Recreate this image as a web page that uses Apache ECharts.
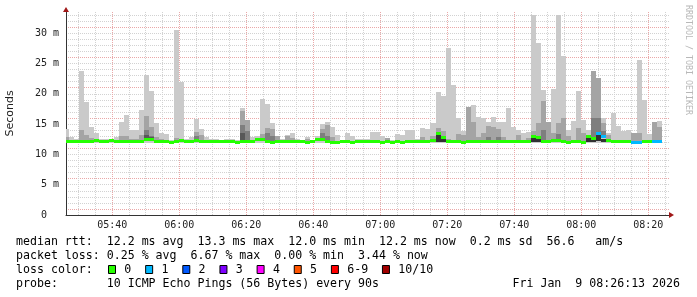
<!DOCTYPE html>
<html><head><meta charset="utf-8">
<script src="https://cdn.jsdelivr.net/npm/echarts@6/dist/echarts.min.js"></script>
<style>html,body{margin:0;padding:0;background:#fff}#c{width:697px;height:297px}</style>
</head><body><div id="c"></div>
<script>
const _ = null;
// time axis, minutes since midnight; 90 s slots starting 05:25:30
const firstSlot = 325.5;
const slotLen = 1.5;
const axisStart = 326.2, axisEnd = 506.2;
const majorTicks = [340,360,380,400,420,440,460,480,500];
const minorTicks = [330,335,345,350,355,365,370,375,385,390,395,405,410,415,425,430,435,445,450,455,465,470,475,485,490,495,505];
const yTicks = [0,5,10,15,20,25,30];

// smoke: outermost ping (max / min)
const pingMax = [14.2,12.9,12.6,23.7,18.6,14.5,13.6,12.5,12.5,12.3,12.8,
 15.4,16.5,14.1,14.1,17.4,23.1,20.5,15.1,13.5,13.4,
 12.4,30.5,22.0,12.6,12.9,15.9,14.2,12.8,12.5,12.5,
 12.4,12.5,12.5,12.4,17.7,15.7,12.8,13.1,19.2,18.4,
 15.1,13.1,12.5,13.2,13.5,12.6,12.4,12.9,12.4,13.1,
 15.0,15.4,14.6,13.2,12.4,13.6,13.1,12.5,12.5,12.6,
 13.7,13.7,13.0,12.7,12.4,13.4,13.2,14.0,14.1,12.5,
 14.4,14.2,15.1,20.3,19.7,27.6,21.5,16.0,13.8,17.9,
 18.2,16.2,16.0,15.4,16.1,15.4,15.4,17.7,14.5,14.0,
 13.5,13.7,33.0,28.4,20.7,15.4,20.8,33.0,26.3,14.0,
 15.5,20.5,15.7,14.1,23.7,22.6,16.0,13.6,16.8,14.7,
 13.8,14.0,13.5,25.6,18.9,13.4,15.4,15.5,_,_];
const pingMin = [11.9,11.9,11.9,11.8,11.9,11.9,11.9,11.9,11.9,11.9,11.9,
 11.8,11.8,11.8,11.8,11.9,11.9,11.9,11.9,11.9,11.9,
 11.7,11.8,11.9,11.9,11.9,11.9,11.9,11.9,11.9,11.9,
 11.9,11.9,11.9,11.7,11.9,11.9,11.9,11.9,11.9,11.9,
 11.8,11.9,11.9,11.9,11.9,11.9,11.9,11.8,11.9,11.9,
 11.9,11.9,11.8,11.8,11.9,11.9,11.8,11.9,11.9,11.9,
 11.9,11.9,11.8,11.9,11.7,11.9,11.8,11.9,11.9,11.9,
 11.9,11.9,11.9,11.9,11.8,11.9,11.9,11.9,11.8,11.9,
 11.9,11.9,11.9,11.9,11.9,11.9,11.9,11.9,11.9,11.9,
 11.9,11.9,11.8,11.8,11.9,11.9,11.9,11.9,11.9,11.7,
 11.9,11.9,11.8,11.9,11.9,11.9,11.9,11.9,11.9,11.9,
 11.9,11.9,11.8,11.8,11.9,11.9,11.8,11.9,_,_];
// inner smoke layers (tops), null where hidden behind the median
const ping9 = [12.8,_,_,14.1,13.2,12.7,12.5,_,_,_,_,
 13.1,13.1,12.5,12.6,13.2,16.4,14.6,12.8,12.5,_,
 _,12.7,_,_,_,13.7,13.2,_,_,_,
 _,_,_,_,17.2,15.6,_,12.7,13.4,14.3,
 14.2,13.1,_,13.0,12.7,_,_,12.6,_,_,
 14.2,14.9,12.9,_,_,_,_,_,_,_,
 _,_,_,12.7,_,_,_,_,_,_,
 12.8,_,13.0,14.3,13.9,12.5,_,13.4,13.2,17.9,
 15.4,12.9,13.6,14.7,14.5,14.2,12.9,_,_,13.2,
 _,12.7,13.9,15.2,18.8,15.3,13.5,15.2,16.0,13.1,
 _,14.4,13.6,12.9,23.7,22.6,15.2,13.2,_,_,
 _,_,13.5,13.6,_,_,15.3,14.5,_,_];
const ping8 = [_,_,_,_,_,_,_,_,_,_,_,
 _,_,_,_,_,14.0,13.1,_,_,_,
 _,_,_,_,_,13.0,_,_,_,_,
 _,_,_,_,14.9,13.8,_,_,_,13.6,
 13.0,_,_,_,_,_,_,_,_,_,
 13.5,13.0,_,_,_,_,_,_,_,_,
 _,_,_,_,_,_,_,_,_,_,
 _,_,_,_,_,_,_,_,_,_,
 _,_,_,12.9,_,12.8,_,_,_,_,
 _,_,_,_,14.0,_,_,13.3,_,_,
 _,_,_,_,16.0,16.0,13.9,_,_,_,
 _,_,_,_,_,_,_,_,_,_];
const ping7 = [_,_,_,_,_,_,_,_,_,_,_,
 _,_,_,_,_,13.2,12.9,_,_,_,
 _,_,_,_,_,_,_,_,_,_,
 _,_,_,_,13.6,_,_,_,_,_,
 _,_,_,_,_,_,_,_,_,_,
 _,_,_,_,_,_,_,_,_,_,
 _,_,_,_,_,_,_,_,_,_,
 _,_,_,_,_,_,_,_,_,_,
 _,_,_,_,_,_,_,_,_,_,
 _,_,_,_,_,_,_,_,_,_,
 _,_,_,_,_,13.6,_,_,_,_,
 _,_,_,_,_,_,_,_,_,_];
const coreLow = [_,_,_,_,_,_,_,_,_,_,_,
 _,_,_,_,_,_,_,_,_,_,
 _,_,_,_,_,_,_,_,_,_,
 _,_,_,_,_,_,_,_,_,_,
 _,_,_,_,_,_,_,_,_,_,
 _,_,_,_,_,_,_,_,_,_,
 _,_,_,_,_,_,_,_,_,_,
 _,_,_,12.1,12.0,_,_,_,_,_,
 _,_,_,_,_,_,_,_,_,_,
 _,_,12.0,12.0,_,_,_,_,_,_,
 _,_,_,12.1,12.1,12.2,12.1,_,_,_,
 _,_,_,_,_,_,_,_,_,_];
const coreHigh = [_,_,_,_,_,_,_,_,_,_,_,
 _,_,_,_,_,_,_,_,_,_,
 _,_,_,_,_,_,_,_,_,_,
 _,_,_,_,_,_,_,_,_,_,
 _,_,_,_,_,_,_,_,_,_,
 _,_,_,_,_,_,_,_,_,_,
 _,_,_,_,_,_,_,_,_,_,
 _,_,_,13.2,12.6,_,_,_,_,_,
 _,_,_,_,_,_,_,_,_,_,
 _,_,12.7,12.6,_,_,_,_,_,_,
 _,_,_,12.8,12.4,13.2,12.6,_,_,_,
 _,_,_,_,_,_,_,_,_,_];
const median = [12.1,12.1,12.1,12.1,12.2,12.2,12.3,12.2,12.1,12.3,12.1,
 12.1,12.1,12.2,12.2,12.2,12.4,12.5,12.2,12.2,12.2,
 11.9,12.2,12.3,12.2,12.2,12.3,12.2,12.1,12.1,12.2,
 12.2,12.1,12.2,11.9,12.1,12.1,12.2,12.4,12.4,12.2,
 12.0,12.1,12.2,12.2,12.2,12.2,12.1,12.0,12.2,12.4,
 12.5,12.1,12.0,12.0,12.1,12.2,12.0,12.1,12.1,12.1,
 12.1,12.1,12.0,12.1,11.9,12.1,12.0,12.1,12.2,12.1,
 12.2,12.2,12.3,13.4,12.8,12.2,12.2,12.1,12.0,12.1,
 12.1,12.1,12.2,12.2,12.2,12.2,12.2,12.2,12.1,12.2,
 12.1,12.1,12.9,12.8,12.2,12.2,12.3,12.3,12.1,11.9,
 12.1,12.2,12.0,13.0,12.7,13.4,12.9,12.3,12.2,12.2,
 12.1,12.2,12.0,12.0,12.2,12.2,12.1,12.2,_,_];
const lostPings = [0,0,0,0,0,0,0,0,0,0,0,
 0,0,0,0,0,0,0,0,0,0,
 0,0,0,0,0,0,0,0,0,0,
 0,0,0,0,0,0,0,0,0,0,
 0,0,0,0,0,0,0,0,0,0,
 0,0,0,0,0,0,0,0,0,0,
 0,0,0,0,0,0,0,0,0,0,
 0,0,0,0,0,0,0,0,0,0,
 0,0,0,0,0,0,0,0,0,0,
 0,0,0,0,0,0,0,0,0,0,
 0,0,0,0,0,1,1,0,0,0,
 0,0,1,1,0,0,1,1,_,_];

const lossLabels = ['0','1','2','3','4','5','6-9','10/10'];
const lossColors = ['#26ff00','#00b8ff','#0059ff','#7e00ff','#ff00ff','#ff5500','#ff0000','#a10000'];
const smokeColors = ['#cacaca','#a4a4a4','#7e7e7e','#585858','#323232'];

const legendLines = [
  'median rtt:  12.2 ms avg  13.3 ms max  12.0 ms min  12.2 ms now  0.2 ms sd  56.6   am/s',
  'packet loss: 0.25 % avg  6.67 % max  0.00 % min  3.44 % now',
  'loss color:',
  'probe:       10 ICMP Echo Pings (56 Bytes) every 90s'
];
const dateText = 'Fri Jan  9 08:26:13 2026';
const watermark = 'RRDTOOL / TOBI OETIKER';

const MONO = 'DejaVu Sans Mono';
function fmtTime(v){const h=Math.floor(v/60), m=Math.round(v-h*60);return (h<10?'0':'')+h+':'+(m<10?'0':'')+m;}

function bandData(lo, hi){
  const d=[];
  for(let i=0;i<hi.length;i++){
    if(hi[i]==null||lo[i]==null) continue;
    d.push([firstSlot+i*slotLen, lo[i], hi[i]]);
  }
  return d;
}
function bandSeries(lo, hi, color){
  return {
    type:'custom', clip:true, silent:true,
    data: bandData(lo, hi),
    encode:{x:0,y:[1,2]},
    renderItem:function(params, api){
      const t=api.value(0), a=api.coord([t, api.value(2)]), b=api.coord([t+slotLen, api.value(1)]);
      const x0=Math.round(a[0]), x1=Math.round(b[0]);
      const y0=Math.round(a[1]), y1=Math.round(b[1]);
      if (y1-y0<=0) return null;
      return {type:'rect', shape:{x:x0,y:y0,width:x1-x0,height:y1-y0}, style:{fill:color}};
    }
  };
}
const medData=[];
for(let i=0;i<median.length;i++){ if(median[i]!=null) medData.push([firstSlot+i*slotLen, median[i], lostPings[i]]); }
function lossColor(n){ return n>=10?lossColors[7]:(n>=6?lossColors[6]:lossColors[n]); }

const series=[
  bandSeries(pingMin, pingMax, smokeColors[0]),
  bandSeries(median, ping9, smokeColors[1]),
  bandSeries(median, ping8, smokeColors[2]),
  bandSeries(median, ping7, smokeColors[3]),
  bandSeries(coreLow, coreHigh, smokeColors[4]),
  {
    type:'custom', clip:true, silent:true, data: medData, encode:{x:0,y:1},
    renderItem:function(params, api){
      const t=api.value(0), c=api.coord([t, api.value(1)]), e=api.coord([t+slotLen, api.value(1)]);
      const x0=Math.round(c[0]), x1=Math.round(e[0]);
      return {type:'rect', shape:{x:x0,y:Math.round(c[1]-1.5),width:x1-x0,height:3}, style:{fill:lossColor(api.value(2))}};
    }
  }
];

// legend graphics
const graphics=[];
const rowY=[241.5,255.5,269.5,283.5];
legendLines.forEach((s,i)=>graphics.push({type:'text', x:16, y:rowY[i], silent:true,
  style:{text:s, fill:'#000', font:'11.6px "'+MONO+'"', verticalAlign:'middle', align:'left'}}));
graphics.push({type:'text', x:680, y:rowY[3], silent:true,
  style:{text:dateText, fill:'#000', font:'11.6px "'+MONO+'"', verticalAlign:'middle', align:'right'}});
let bx=108;
lossLabels.forEach((lab,i)=>{
  graphics.push({type:'rect', silent:true, shape:{x:bx+0.5,y:265.5,width:7,height:8}, style:{fill:lossColors[i], stroke:'#000', lineWidth:1}});
  graphics.push({type:'text', x:bx+16.3, y:rowY[2], silent:true, style:{text:lab, fill:'#000', font:'11.6px "'+MONO+'"', verticalAlign:'middle', align:'left'}});
  bx = bx + 16.3 + (lab.length+2)*6.95;
});
graphics.push({type:'text', x:688, y:5, rotation:-Math.PI/2, silent:true,
  style:{text:watermark, fill:'#b8b8b8', font:'8.3px "'+MONO+'"', verticalAlign:'middle', align:'left'}});

const chart = echarts.init(document.getElementById('c'), null, {renderer:'canvas'});
chart.setOption({
  animation:false,
  backgroundColor:'#fff',
  grid:{left:66, right:28, top:12, bottom:82, containLabel:false, outerBoundsMode:'none'},
  xAxis:[{
    type:'value', min:axisStart, max:axisEnd, position:'bottom',
    axisLine:{show:true, onZero:false, lineStyle:{color:'#333', width:1}},
    axisTick:{show:false, customValues:majorTicks},
    axisLabel:{customValues:majorTicks, formatter:fmtTime, color:'#222', fontFamily:MONO, fontSize:10, margin:5},
    splitLine:{show:true, lineStyle:{color:'#eaa8a8', type:[1,1], width:1}}
  },{
    type:'value', min:axisStart, max:axisEnd, position:'bottom',
    axisLine:{show:true, onZero:false, symbol:['none','triangle'], symbolSize:[6,5], symbolOffset:[0,2.5], lineStyle:{color:'#a01818', opacity:0}},
    axisTick:{show:false, customValues:minorTicks},
    axisLabel:{show:false, customValues:minorTicks},
    splitLine:{show:true, lineStyle:{color:'#d2d2d2', type:[1,1], width:1}}
  }],
  yAxis:[{
    type:'value', min:0, max:33.5, interval:1,
    name:'Seconds', nameLocation:'middle', nameGap:50, nameRotate:90,
    nameTextStyle:{fontFamily:'DejaVu Sans', fontSize:11, color:'#222'},
    axisLine:{show:true, lineStyle:{color:'#333', width:1}},
    axisTick:{show:false},
    axisLabel:{color:'#222', fontFamily:MONO, fontSize:10, margin:7,
      formatter:function(v){ if (yTicks.indexOf(v)<0) return ''; return v===0?'0  ':v+' m'; }},
    splitLine:{show:true, showMinLine:false, showMaxLine:false, lineStyle:{color:['#eaa8a8','#d2d2d2','#d2d2d2','#d2d2d2','#d2d2d2'], type:[1,1], width:1}}
  },{
    type:'value', min:0, max:33.5, position:'left',
    axisLine:{show:true, onZero:false, symbol:['none','triangle'], symbolSize:[6,5], symbolOffset:[0,2.5], lineStyle:{color:'#a01818', opacity:0}},
    axisTick:{show:false}, axisLabel:{show:false}, splitLine:{show:false}
  }],
  series:series,
  graphic:graphics
});
</script>
</body></html>
